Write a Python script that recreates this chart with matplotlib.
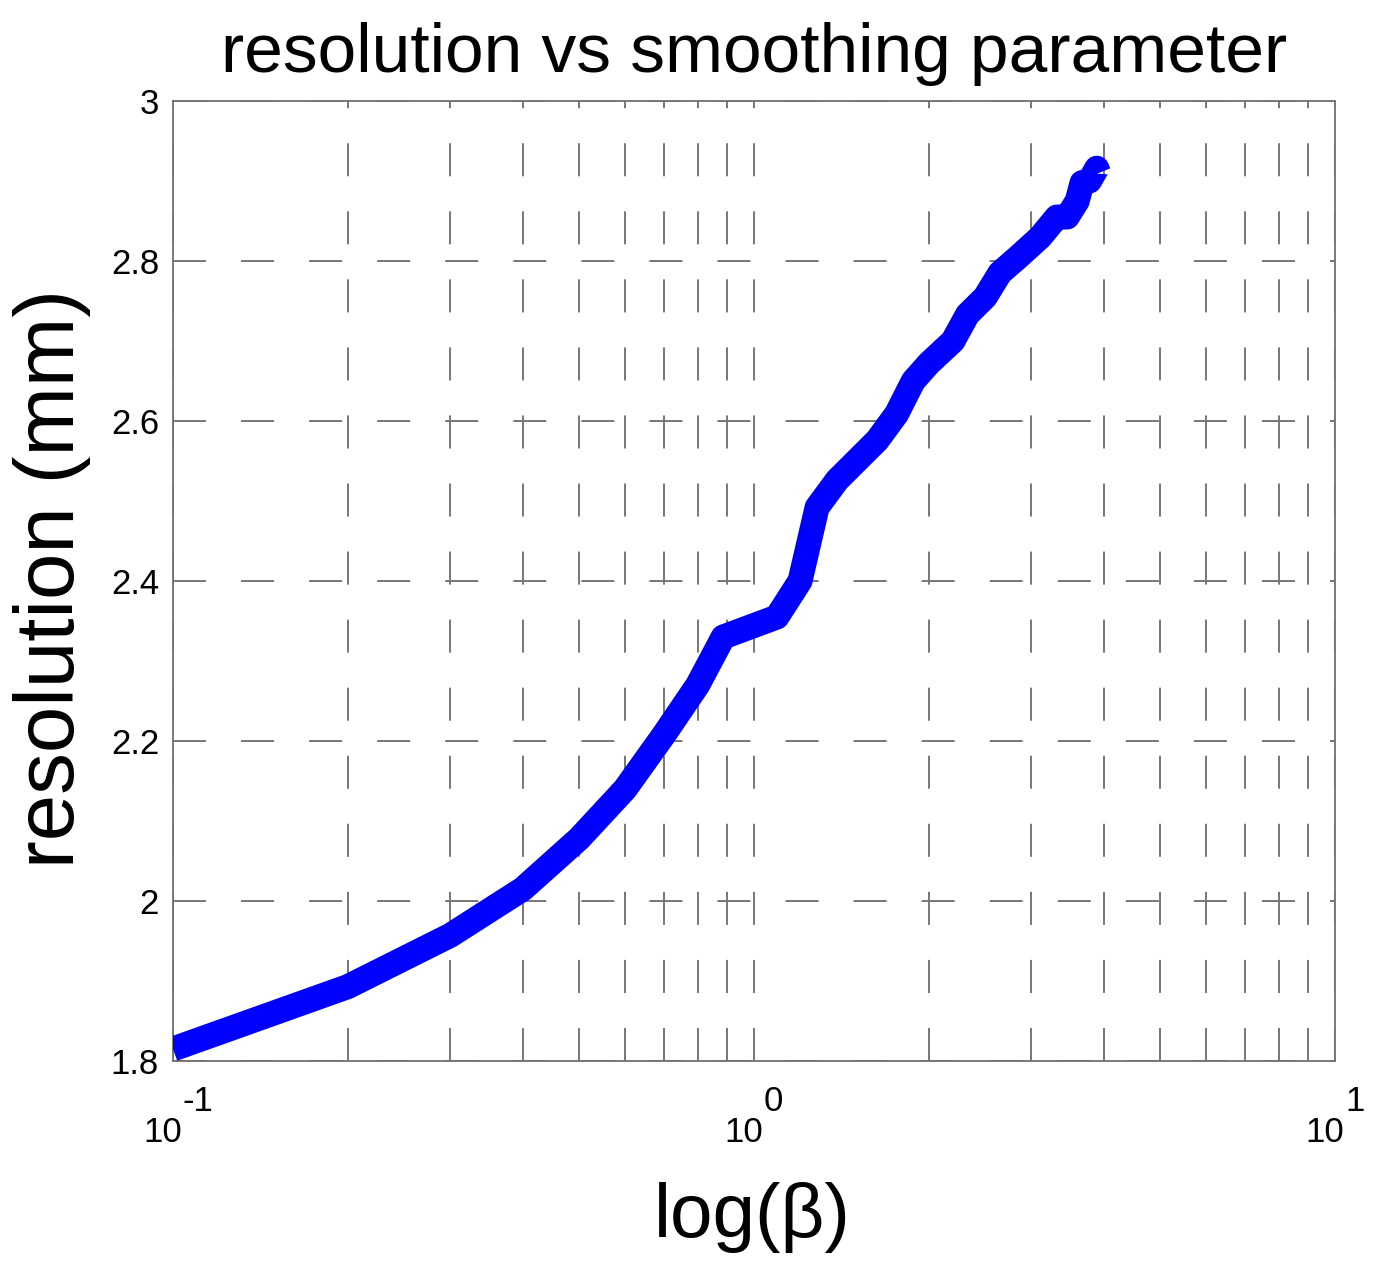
import numpy as np
import matplotlib
matplotlib.use("Agg")
import matplotlib.pyplot as plt

plt.rcParams["font.family"] = ["Liberation Sans", "DejaVu Sans"]

# smoothing parameter beta and the resulting resolution (mm)
beta = [0.1, 0.2, 0.3, 0.4, 0.5, 0.6, 0.7, 0.8, 0.885, 1.095, 1.2, 1.284,
        1.39, 1.63, 1.76, 1.88, 2.0, 2.2, 2.33, 2.5, 2.65, 2.85, 3.11, 3.32,
        3.46, 3.6, 3.67, 3.78, 3.89, 3.92]
resolution = [1.815, 1.893, 1.957, 2.015, 2.078, 2.14, 2.208, 2.27, 2.33,
              2.355, 2.40, 2.492, 2.526, 2.576, 2.609, 2.65, 2.672, 2.70,
              2.733, 2.755, 2.785, 2.805, 2.83, 2.855, 2.855, 2.875, 2.898,
              2.90, 2.916, 2.91]

y_ticks = [1.8, 2.0, 2.2, 2.4, 2.6, 2.8, 3.0]
y_tick_labels = ["1.8", "2", "2.2", "2.4", "2.6", "2.8", "3"]
x_decades = [-1, 0, 1]

W, H = 1374, 1263
fig = plt.figure(figsize=(W / 100, H / 100), dpi=100)
ax = fig.add_axes([173 / W, 1 - 1061 / H, (1335 - 173) / W, (1061 - 101) / H])

ax.plot(beta, resolution, color="#0000ff", lw=18, solid_capstyle="butt",
        solid_joinstyle="round", zorder=3)

ax.set_xscale("log")
ax.set_xlim(0.1, 10)
ax.set_ylim(1.8, 3.0)

# dashed grey grid: all decades + minor ticks on x, majors on y
grid_style = dict(color="#777777", lw=1.4, linestyle=(0, (17, 18)))
ax.grid(True, which="both", axis="x", **grid_style)
ax.grid(True, which="major", axis="y", **grid_style)
ax.set_axisbelow(True)

ax.set_yticks(y_ticks)
ax.set_yticklabels(y_tick_labels)
ax.tick_params(axis="y", which="both", direction="in", length=0, pad=10,
               labelsize=25)
ax.tick_params(axis="x", which="both", direction="in", length=0,
               labelbottom=False)

for s in ax.spines.values():
    s.set_color("#707070")
    s.set_linewidth(1.3)

# MATLAB-style 10^n labels with a raised exponent
for d in x_decades:
    ax.annotate("10", xy=(10.0 ** d, 0), xycoords=("data", "axes fraction"),
                xytext=(9, -81), textcoords="offset pixels",
                ha="right", va="baseline", fontsize=25)
    ax.annotate(str(d), xy=(10.0 ** d, 0), xycoords=("data", "axes fraction"),
                xytext=(10, -50), textcoords="offset pixels",
                ha="left", va="baseline", fontsize=25)

fig.text(754 / W, 1 - 72 / H, "resolution vs smoothing parameter",
         ha="center", va="baseline", fontsize=50)
fig.text(52 / W, 1 - 578 / H, "resolution (mm)", rotation=90,
         ha="center", va="center", fontsize=60)
fig.text(752 / W, 1 - 1237 / H, "log(\u03b2)", ha="center", va="baseline",
         fontsize=55)

fig.savefig("out.png", dpi=100)
